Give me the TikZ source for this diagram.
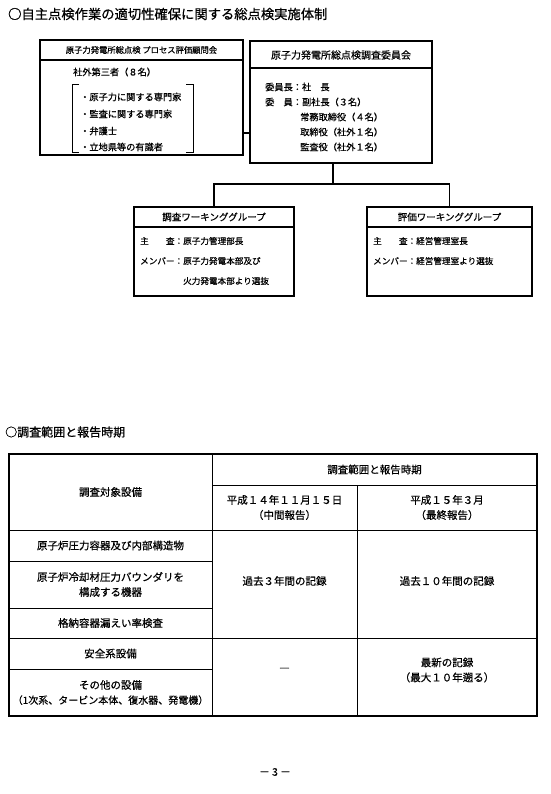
\documentclass[tikz,border=0pt]{standalone}
\usepackage{fontspec}
\setmainfont[FakeBold=0.6]{Noto Sans CJK JP}
\begin{document}
\begin{tikzpicture}[x=1pt,y=-1pt,
  box/.style={draw, line width=1.1pt, inner sep=0pt, rectangle},
  ttl/.style={anchor=west, inner sep=0pt, font=\fontsize{13.3}{15}\selectfont},
  hd/.style={inner sep=0pt, font=\fontsize{9.5}{11}\selectfont},
  txt/.style={anchor=west, inner sep=0pt, font=\fontsize{9.2}{11}\selectfont},
  cell/.style={inner sep=0pt, align=center, font=\fontsize{10.5}{15}\selectfont},
  conn/.style={line width=1.1pt},
  tline/.style={line width=0.9pt},
  touter/.style={line width=1.3pt},
]
\useasboundingbox (0,0) rectangle (550,794);

% ---- Title 1
\node[ttl] (t1) at (8,14) {○自主点検作業の適切性確保に関する総点検実施体制};

% ---- Left box
\node[box, minimum width=203pt, minimum height=115pt] (lb) at (141.5,97.5) {};
\coordinate (lbd) at (0,60);
\draw[conn] (lb.west |- lbd) -- (lb.east |- lbd);
\node[hd, font=\fontsize{8.3}{10}\selectfont] (lbh) at (141.5,50) {原子力発電所総点検 プロセス評価顧問会};
\node[txt] (lb0) at (73,72) {社外第三者（８名）};
\node[txt] (lb1) at (80,97) {・原子力に関する専門家};
\node[txt] (lb2) at (80,114) {・監査に関する専門家};
\node[txt] (lb3) at (80,131) {・弁護士};
\node[txt] (lb4) at (80,147) {・立地県等の有識者};
\draw[tline] (79,84) -- (72,84) -- (72,152) -- (79,152);
\draw[tline] (186,84) -- (193,84) -- (193,152) -- (186,152);

% ---- Right box
\node[box, minimum width=182pt, minimum height=122pt] (rb) at (341,102) {};
\coordinate (rbd) at (0,68);
\draw[conn] (rb.west |- rbd) -- (rb.east |- rbd);
\node[hd, font=\fontsize{10}{12}\selectfont] (rbh) at (341,55) {原子力発電所総点検調査委員会};
\node[txt] (rb1) at (265,87) {委員長：社　長};
\node[txt] (rb2) at (265,102) {委　員：副社長（３名）};
\node[txt] (rb3) at (300,117) {常務取締役（４名）};
\node[txt] (rb4) at (300,132) {取締役（社外１名）};
\node[txt] (rb5) at (300,147) {監査役（社外１名）};

% connector left-right
\coordinate (lr) at (0,133);
\draw[conn] (lb.east |- lr) -- (rb.west |- lr);

% ---- Working groups
\node[box, minimum width=160pt, minimum height=89pt] (wg1) at (214,251.5) {};
\node[box, minimum width=165pt, minimum height=89pt] (wg2) at (449.5,251.5) {};
\coordinate (wgd) at (0,227);
\draw[conn] (wg1.west |- wgd) -- (wg1.east |- wgd);
\draw[conn] (wg2.west |- wgd) -- (wg2.east |- wgd);
\node[hd] (wg1h) at (214,217) {調査ワーキンググループ};
\node[hd] (wg2h) at (449.5,217) {評価ワーキンググループ};
\node[txt, font=\fontsize{8.6}{10}\selectfont] (wg1a) at (140,241) {主　　査：原子力管理部長};
\node[txt, font=\fontsize{8.6}{10}\selectfont] (wg1b) at (140,261) {メンバー：原子力発電本部及び};
\node[txt, font=\fontsize{8.6}{10}\selectfont] (wg1c) at (183,281) {火力発電本部より選抜};
\node[txt, font=\fontsize{8.6}{10}\selectfont] (wg2a) at (373,241) {主　　査：経営管理室長};
\node[txt, font=\fontsize{8.6}{10}\selectfont] (wg2b) at (373,261) {メンバー：経営管理室より選抜};

% tree connector
\coordinate (split) at (333,184);
\draw[conn] (split |- rb.south) -- (split);
\draw[conn] (wg1.north) |- (split) -| (wg2.north);

% ---- Title 2
\node[ttl, font=\fontsize{12}{14}\selectfont] (t2) at (5,432) {○調査範囲と報告時期};

% ---- Table
\draw[touter] (9,454) rectangle (537,716);
\draw[tline] (212,454) -- (212,716);
\draw[tline] (357,485) -- (357,716);
\draw[tline] (212,485) -- (537,485);
\draw[tline] (9,530) -- (537,530);
\draw[tline] (9,561) -- (212,561);
\draw[tline] (9,608) -- (212,608);
\draw[tline] (9,638) -- (537,638);
\draw[tline] (9,669) -- (212,669);

\node[cell] (c0) at (110.5,492) {調査対象設備};
\node[cell] (c1) at (110.5,545.5) {原子炉圧力容器及び内部構造物};
\node[cell] (c2) at (110.5,584.5) {原子炉冷却材圧力バウンダリを\\構成する機器};
\node[cell] (c3) at (110.5,623) {格納容器漏えい率検査};
\node[cell] (c4) at (110.5,653.5) {安全系設備};
\node[cell] (c5) at (110.5,692.5) {その他の設備\\{\fontsize{10}{15}\selectfont （1次系、タービン本体、復水器、発電機）}};
\node[cell] (h0) at (374.5,469.5) {調査範囲と報告時期};
\node[cell] (h1) at (284.5,507.5) {平成１４年１１月１５日\\（中間報告）};
\node[cell] (h2) at (447,507.5) {平成１５年３月\\（最終報告）};
\node[cell] (r1) at (284.5,581) {過去３年間の記録};
\node[cell] (r2) at (447,581) {過去１０年間の記録};
\node[cell] (r3) at (284.5,670) {―};
\node[cell] (r4) at (447,670) {最新の記録\\（最大１０年遡る）};

% ---- page number
\node[cell] (pg) at (275,772) {－ 3 －};
\end{tikzpicture}
\end{document}
